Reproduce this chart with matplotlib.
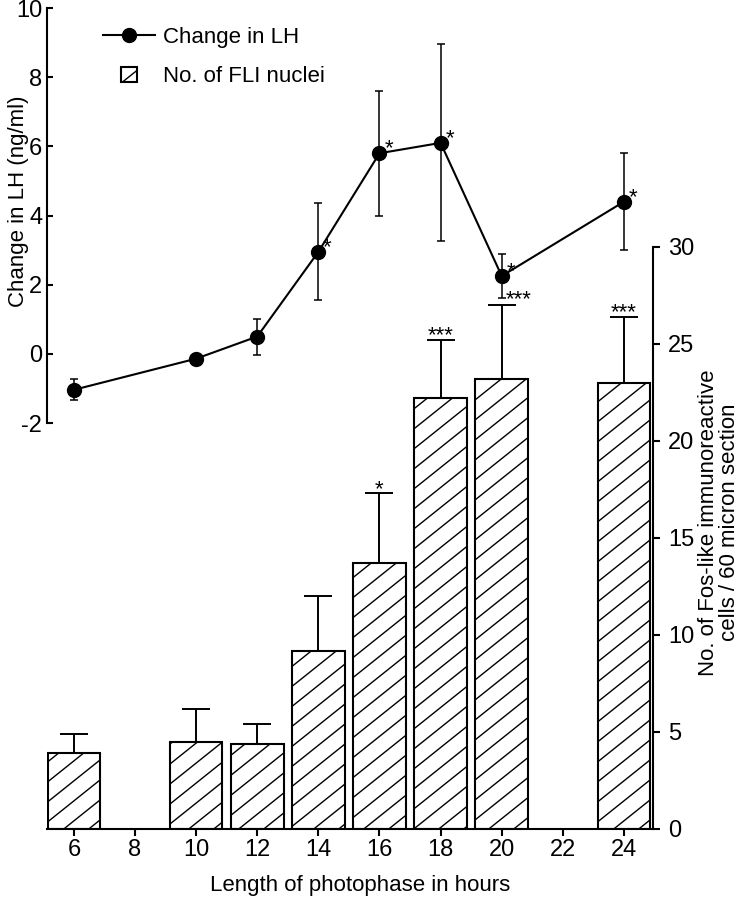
import numpy as np
import matplotlib
matplotlib.use('Agg')
import matplotlib.pyplot as plt
import matplotlib.hatch as mhatch
from matplotlib.path import Path
from matplotlib.lines import Line2D
from matplotlib.patches import Patch, Rectangle
from matplotlib.legend_handler import HandlerPatch

# photophase length (hours) for both series
hours = [6, 10, 12, 14, 16, 18, 20, 24]

# no. of FLI nuclei (cells / 60 micron section), upper sem and significance
fli_counts = [3.9, 4.5, 4.4, 9.2, 13.7, 22.2, 23.2, 23.0]
fli_sem = [1.0, 1.7, 1.0, 2.8, 3.6, 3.0, 3.8, 3.4]
fli_stars = ['', '', '', '', '*', '***', '***', '***']

# change in LH (ng/ml)
lh_change = [-1.04, -0.14, 0.5, 2.95, 5.8, 6.1, 2.25, 4.4]
lh_sem = [0.3, 0.1, 0.52, 1.4, 1.8, 2.85, 0.63, 1.4]
lh_stars = ['', '', '', '*', '*', '*', '*', '*']

xticks = [6, 8, 10, 12, 14, 16, 18, 20, 22, 24]
lh_ticks = [-2, 0, 2, 4, 6, 8, 10]
fli_ticks = [0, 5, 10, 15, 20, 25, 30]

plt.rcParams['font.family'] = ['Liberation Sans', 'DejaVu Sans']
plt.rcParams['font.size'] = 16
plt.rcParams['axes.unicode_minus'] = False
plt.rcParams['hatch.linewidth'] = 1.0


class SparseNorthEastHatch(mhatch.HatchPatternBase):
    """'/' hatch with wider spacing and a flatter slope, like the scanned bars"""
    def __init__(self, hatch, density):
        self.offsets = np.arange(-4, 6) * 0.2 if '/' in hatch else np.array([])
        self.num_vertices = len(self.offsets) * 2

    def set_vertices_and_codes(self, vertices, codes):
        vertices[0::2, 0] = 0.0
        vertices[0::2, 1] = self.offsets
        vertices[1::2, 0] = 1.0
        vertices[1::2, 1] = self.offsets + 0.8
        codes[0::2] = Path.MOVETO
        codes[1::2] = Path.LINETO


if hasattr(mhatch, '_hatch_types'):
    mhatch._hatch_types = [SparseNorthEastHatch if t is mhatch.NorthEastHatch else t
                           for t in mhatch._hatch_types]


def square_handle(legend, orig_handle, xdescent, ydescent, width, height, fontsize):
    """small square instead of the wide legend patch"""
    side = 0.68 * fontsize
    return Rectangle((-xdescent + width / 2 - side / 2, -ydescent + height / 2 - side / 2), side, side)


fig = plt.figure(figsize=(7.45, 9), dpi=100)
ax_bar = fig.add_axes([0.0631, 0.0789, 0.8134, 0.6467])
ax_lh = fig.add_axes([0.0631, 0.53, 0.8134, 0.4611])
ax_lh.patch.set_visible(False)

# bars (right axis)
ax_bar.bar(hours, fli_counts, width=1.72, color='white', edgecolor='black',
           linewidth=1.5, hatch='/', zorder=2)
ax_bar.errorbar(hours, fli_counts, yerr=[np.zeros(len(fli_sem)), fli_sem], fmt='none',
                ecolor='black', elinewidth=1.4, capsize=10, capthick=1.4, zorder=1)
for x, y, e, s in zip(hours, fli_counts, fli_sem, fli_stars):
    if not s:
        continue
    if x == 20:
        # sits under the LH point, so put it beside the cap
        ax_bar.annotate(s, (x, y + e), xytext=(3, 0), textcoords='offset points',
                        ha='left', va='baseline')
    else:
        ax_bar.annotate(s, (x, y + e), xytext=(0, -1), textcoords='offset points',
                        ha='center', va='baseline')

ax_bar.set_xlim(5.12, 24.95)
ax_bar.set_ylim(0, 30)
ax_bar.set_xticks(xticks)
ax_bar.set_yticks(fli_ticks)
ax_bar.yaxis.tick_right()
ax_bar.yaxis.set_label_position('right')
ax_bar.spines['left'].set_visible(False)
ax_bar.spines['top'].set_visible(False)
ax_bar.spines['right'].set_linewidth(1.5)
ax_bar.spines['bottom'].set_linewidth(1.5)
ax_bar.tick_params(axis='both', direction='out', length=5, width=1.5, labelsize=17)
ax_bar.tick_params(axis='x', pad=2)
ax_bar.tick_params(axis='y', pad=6)
ax_bar.set_ylabel('No. of Fos-like immunoreactive\ncells / 60 micron section', linespacing=1.0)
ax_bar.yaxis.set_label_coords(1.074, 0.527)
ax_bar.set_xlabel('Length of photophase in hours')
ax_bar.xaxis.set_label_coords(0.516, -0.079)

# LH line (left axis)
ax_lh.errorbar(hours, lh_change, yerr=lh_sem, fmt='-o', color='black', lw=1.5, ms=10,
               elinewidth=1.1, capsize=3, capthick=1.1)
for x, y, s in zip(hours, lh_change, lh_stars):
    if s:
        ax_lh.annotate(s, (x, y), xytext=(6.5, -1), textcoords='offset points',
                       ha='center', va='baseline')

ax_lh.set_xlim(5.12, 24.95)
ax_lh.set_ylim(-2, 10)
ax_lh.set_yticks(lh_ticks)
ax_lh.set_xticks([])
for side in ['top', 'right', 'bottom']:
    ax_lh.spines[side].set_visible(False)
ax_lh.spines['left'].set_linewidth(1.5)
ax_lh.tick_params(axis='y', direction='in', length=4.5, width=1.5, pad=3.5, labelsize=17)
ax_lh.set_ylabel('Change in LH (ng/ml)')
ax_lh.yaxis.set_label_coords(-0.03, 0.535)

handles = [Line2D([], [], color='black', marker='o', ms=10, lw=1.5),
           Patch(facecolor='white', edgecolor='black', hatch='/', lw=1.5)]
ax_lh.legend(handles, ['Change in LH', 'No. of FLI nuclei'], loc='upper left',
             bbox_to_anchor=(0.0924, 0.954), frameon=False, borderpad=0, borderaxespad=0,
             handlelength=2.34, handletextpad=0.36, labelspacing=0.82,
             handler_map={Patch: HandlerPatch(patch_func=square_handle)})

fig.savefig('out.png', dpi=100)
